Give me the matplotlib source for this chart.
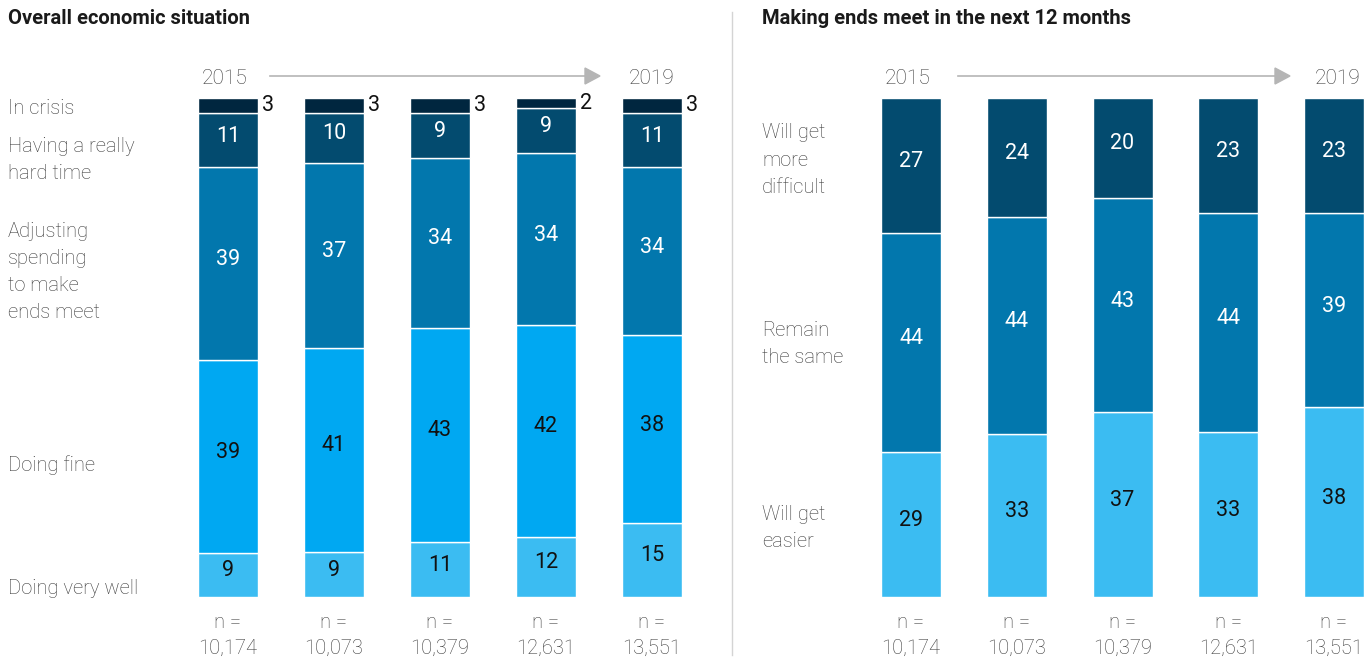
import matplotlib.pyplot as plt
import numpy as np

plt.rcParams['font.family'] = ['Roboto', 'Liberation Sans', 'DejaVu Sans']

W, H = 1372, 658

# left panel: overall economic situation (bottom -> top)
econ_labels = ['Doing very well', 'Doing fine', 'Adjusting\nspending\nto make\nends meet',
               'Having a really\nhard time', 'In crisis']
very_well = [9, 9, 11, 12, 15]
fine = [39, 41, 43, 42, 38]
adjusting = [39, 37, 34, 34, 34]
hard_time = [11, 10, 9, 9, 11]
in_crisis = [3, 3, 3, 2, 3]

# right panel: making ends meet in the next 12 months (bottom -> top)
outlook_labels = ['Will get\neasier', 'Remain\nthe same', 'Will get\nmore\ndifficult']
easier = [29, 33, 37, 33, 38]
same = [44, 44, 43, 44, 39]
difficult = [27, 24, 20, 23, 23]

sample_sizes = ['10,174', '10,073', '10,379', '12,631', '13,551']

C_CRISIS = '#00263f'
C_HARD = '#034b6f'
C_ADJ = '#0277ad'
C_FINE = '#00a8f2'
C_WELL = '#3bbcf2'
TXT = '#3a3a3a'
FS = 14.5
LIGHT = 'light'


def fx(x):
    return x / W


def fy(y):
    return 1 - y / H


fig = plt.figure(figsize=(W / 100, H / 100), dpi=100)

bar_top, bar_bot = 98, 597


def make_axes(first_center, spacing):
    left = first_center - spacing / 2
    width = spacing * 5
    ax = fig.add_axes([fx(left), fy(bar_bot), width / W, (bar_bot - bar_top) / H])
    ax.set_xlim(-0.5, 4.5)
    ax.set_ylim(0, 100)
    ax.axis('off')
    return ax


def draw_stack(ax, series, colors, text_colors, bar_w, outside_top=False):
    data = np.array(series, dtype=float)
    totals = data.sum(axis=0)
    shares = data / totals * 100
    x = np.arange(data.shape[1])
    bottom = np.zeros(data.shape[1])
    n = len(series)
    for k in range(n):
        ax.bar(x, shares[k], bar_w, bottom=bottom, color=colors[k],
               edgecolor='white', linewidth=1.0)
        for i in range(len(x)):
            val = data[k][i]
            if outside_top and k == n - 1:
                ax.text(x[i] + bar_w / 2 + 0.04, bottom[i] + shares[k][i] / 2, f'{val:.0f}',
                        ha='left', va='center', fontsize=FS + 1, color='#111111')
            else:
                ax.text(x[i], bottom[i] + shares[k][i] / 2 + 0.8, f'{val:.0f}',
                        ha='center', va='center', fontsize=FS + 1, color=text_colors[k])
        bottom += shares[k]
    for i in range(len(x)):
        ax.text(x[i], -5.1, 'n =', ha='center', va='center', fontsize=FS,
                color=TXT, clip_on=False, fontweight=LIGHT)
        ax.text(x[i], -10.2, sample_sizes[i], ha='center', va='center', fontsize=FS,
                color=TXT, clip_on=False, fontweight=LIGHT)


bar_w = 60 / 106
ax1 = make_axes(228, 106)
draw_stack(ax1, [very_well, fine, adjusting, hard_time, in_crisis],
           [C_WELL, C_FINE, C_ADJ, C_HARD, C_CRISIS],
           ['#111111', '#111111', 'white', 'white', 'white'], bar_w, outside_top=True)

ax2 = make_axes(911, 105.75)
draw_stack(ax2, [easier, same, difficult],
           [C_WELL, C_ADJ, C_HARD],
           ['#111111', 'white', 'white'], 60 / 105.75)

# titles
fig.text(fx(8), fy(19), 'Overall economic situation', fontsize=14.5, fontweight='bold',
         color='#1a1a1a', ha='left', va='center')
fig.text(fx(762), fy(19), 'Making ends meet in the next 12 months', fontsize=14.5,
         fontweight='bold', color='#1a1a1a', ha='left', va='center')

# divider
fig.add_artist(plt.Line2D([fx(732), fx(732)], [fy(12), fy(655)], color='#d4d4d4', lw=1))

# year arrows
for y0, y1, x_a, x_b in [(225, 652, 270, 600), (908, 1338, 958, 1290)]:
    fig.text(fx(y0), fy(79), '2015', fontsize=FS + 0.5, color=TXT, ha='center', va='center',
             fontweight=LIGHT)
    fig.text(fx(y1), fy(79), '2019', fontsize=FS + 0.5, color=TXT, ha='center', va='center',
             fontweight=LIGHT)
    fig.add_artist(plt.Line2D([fx(x_a), fx(x_b - 14)], [fy(76), fy(76)], color='#b5b5b5', lw=1.2))
    fig.patches.append(plt.Polygon([[fx(x_b - 15), fy(68)], [fx(x_b), fy(76)], [fx(x_b - 15), fy(84)]],
                                   closed=True, color='#b5b5b5', transform=fig.transFigure))

# row labels, left panel
left_rows = [(588, econ_labels[0]), (465, econ_labels[1]), (272, econ_labels[2]),
             (160, econ_labels[3]), (108, econ_labels[4])]
for y, lab in left_rows:
    fig.text(fx(8), fy(y), lab, fontsize=FS, color=TXT, ha='left', va='center',
             linespacing=1.55, fontweight=LIGHT)

right_rows = [(528, outlook_labels[0]), (344, outlook_labels[1]), (160, outlook_labels[2])]
for y, lab in right_rows:
    fig.text(fx(762), fy(y), lab, fontsize=FS, color=TXT, ha='left', va='center',
             linespacing=1.55, fontweight=LIGHT)

fig.savefig('out.png', dpi=100, facecolor='white')
